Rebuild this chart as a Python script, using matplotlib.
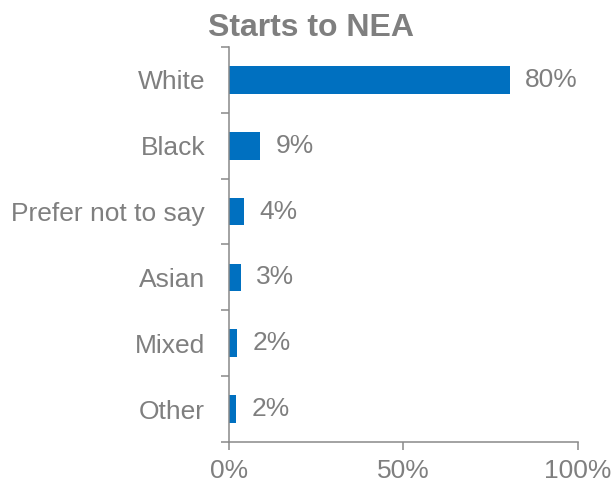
import numpy as np
import matplotlib
matplotlib.use("Agg")
import matplotlib.pyplot as plt
from matplotlib.ticker import FixedLocator, PercentFormatter

plt.rcParams['font.family'] = ['Liberation Sans', 'DejaVu Sans']

# --- DATA ---
categories = ["White", "Black", "Prefer not to say", "Asian", "Mixed", "Other"]
values = [80.4, 8.9, 4.4, 3.4, 2.3, 2.0]
xticks = [0, 50, 100]

GRAY = "#7f7f7f"
AXIS = "#898989"
BLUE = "#0070c0"

fig = plt.figure(figsize=(6.15, 4.88), dpi=100)
ax = fig.add_axes([0.372, 0.094, 0.568, 0.81])

y = np.arange(len(categories))[::-1]
ax.barh(y, values, height=0.42, color=BLUE)

for yi, v in zip(y, values):
    ax.text(v + 4.5, yi, f"{round(v)}%", va="center", ha="left",
            fontsize=19, color=GRAY)

ax.set_ylim(-0.5, len(categories) - 0.5)
ax.set_xlim(0, 100)

ax.set_yticks(y)
ax.set_yticklabels(categories)
ax.yaxis.set_minor_locator(FixedLocator(np.arange(len(categories) + 1) - 0.5))
ax.tick_params(axis="y", which="major", length=0, pad=17, labelsize=19, labelcolor=GRAY)
ax.tick_params(axis="y", which="minor", length=6, width=1.1, color=AXIS)

ax.set_xticks(xticks)
ax.xaxis.set_major_formatter(PercentFormatter(decimals=0))
ax.tick_params(axis="x", length=6, width=1.1, color=AXIS, labelsize=19,
               labelcolor=GRAY, pad=6)

for s in ["top", "right"]:
    ax.spines[s].set_visible(False)
for s in ["left", "bottom"]:
    ax.spines[s].set_color(AXIS)
    ax.spines[s].set_linewidth(1.1)

fig.text(0.505, 0.942, "Starts to NEA", fontsize=23, fontweight="bold",
         color=GRAY, ha="center", va="center")

fig.savefig("out.png", dpi=100)
